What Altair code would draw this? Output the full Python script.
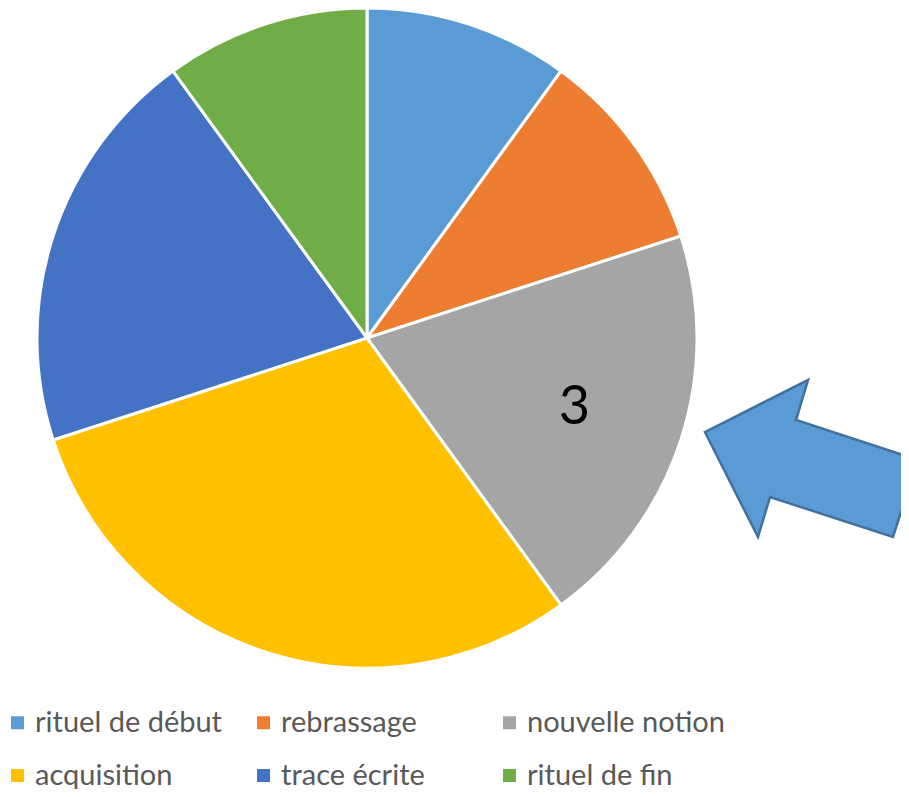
import altair as alt
import pandas as pd

categories = ["rituel de début", "rebrassage", "nouvelle notion",
              "acquisition", "trace écrite", "rituel de fin"]
values = [1.5, 1.5, 3, 4.5, 3, 1.5]
shown_labels = ["", "", "3", "", "", ""]
colors = ["#5B9BD5", "#ED7D31", "#A5A5A5", "#FFC000", "#4472C4", "#70AD47"]

# legend fills column by column: order entries so rows read like the original
legend_order = ["rituel de début", "acquisition", "rebrassage",
                "trace écrite", "nouvelle notion", "rituel de fin"]
legend_colors = [colors[categories.index(c)] for c in legend_order]

df = pd.DataFrame({
    "cat": categories,
    "value": values,
    "label": shown_labels,
    "ord": list(range(len(categories))),
})

W, H = 893, 781
CX, CY, R = 359, 330, 330

ARROW_PATH = ("M-0.964,-0.236L-0.027,-0.709L-0.136,-0.345L0.973,0.018"
              "L0.745,0.718L-0.373,0.355L-0.482,0.718Z")

base = alt.Chart(df).encode(
    theta=alt.Theta("value:Q", stack=True),
    order=alt.Order("ord:Q"),
)

pie = base.mark_arc(outerRadius=R, stroke="white", strokeWidth=3).encode(
    x=alt.value(CX), y=alt.value(CY),
    color=alt.Color(
        "cat:N",
        scale=alt.Scale(domain=legend_order, range=legend_colors),
        legend=alt.Legend(
            title=None, orient="none", legendX=-5, legendY=700,
            columns=3, gridAlign="all", columnPadding=16, rowPadding=23,
            symbolType="square", symbolSize=169, symbolStrokeWidth=0,
            labelFont="Lato", labelFontSize=29, labelColor="#595959",
            labelOffset=3, labelLimit=400, padding=0,
        ),
    ),
)

text = base.mark_text(radius=218, font="Lato", fontSize=54, color="black",
                      baseline="middle", align="center", dy=3).encode(
    x=alt.value(CX), y=alt.value(CY),
    text="label:N",
)

arrow = alt.Chart(pd.DataFrame({"a": [0]})).mark_point(
    shape=ARROW_PATH, filled=True, fill="#5B9BD5", stroke="#41719C",
    strokeWidth=2.5, opacity=1, size=48400,
).encode(x=alt.value(803), y=alt.value(450))

chart = alt.layer(pie, text, arrow).properties(
    width=W, height=H, padding=0,
    autosize=alt.AutoSizeParams(type="none"),
).configure_view(stroke=None)

chart.save("out.html", embed_options={"renderer": "svg", "actions": False})
